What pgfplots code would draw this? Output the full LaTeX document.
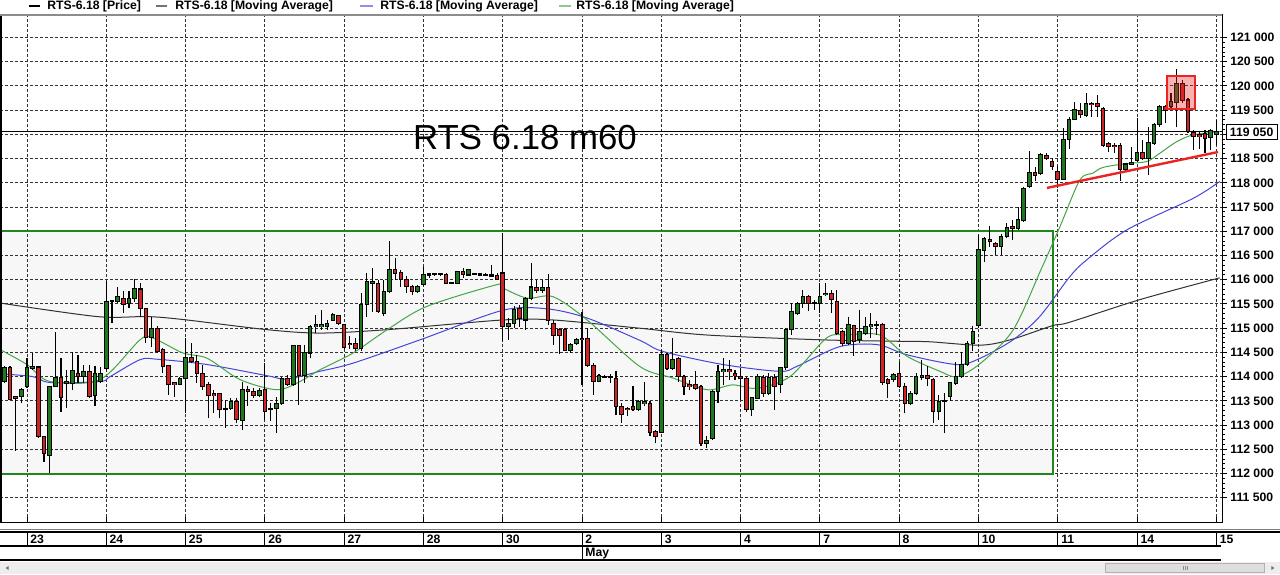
\documentclass[border=0pt]{standalone}
\usepackage{fontspec}
\setmainfont{Liberation Sans}
\usepackage{pgfplots}
\pgfplotsset{compat=1.18}
\usepackage{pgfplotstable}

\definecolor{cgreen}{RGB}{30,120,30}
\definecolor{cred}{RGB}{210,35,35}
\definecolor{magreen}{RGB}{70,165,70}
\definecolor{mablue}{RGB}{70,70,215}
\definecolor{mablack}{RGB}{50,50,50}
\definecolor{boxgreen}{RGB}{30,135,30}
\definecolor{trendred}{RGB}{235,35,35}
\newcommand\tickfont{\fontsize{6.1}{7}\selectfont\bfseries}

\pgfplotstableread{
n o h l c
-4 113900 114210 113870 114180
-3 114180 114210 113510 113520
-2 113590 113610 112460 113560
-1 113590 113760 113450 113730
0 113800 114380 113760 114180
1 114180 114490 114140 114210
2 114200 114210 112730 112770
3 112770 112770 112230 112410
4 112370 113800 112010 113800
5 113800 114930 113790 113990
6 113990 114380 113280 113580
7 113870 114140 113350 113900
8 113870 114520 113730 114120
9 114070 114450 113870 114000
10 114000 114250 113870 114110
11 114110 114250 113560 113590
12 113610 114210 113400 114060
13 113900 114200 113870 114070
14 114180 115970 114140 115550
15 115550 115590 115110 115570
16 115550 115860 115520 115660
17 115620 115760 115310 115500
18 115520 115760 115420 115620
19 115620 116010 115550 115830
20 115810 115930 115240 115400
21 115400 115420 114690 114800
22 114800 115240 114620 115000
23 115000 115040 114490 114520
24 114560 114590 114070 114210
25 114230 114250 113630 113830
26 113870 113870 113590 113830
27 113830 114000 113830 113970
28 113970 114800 113260 114400
29 114400 114690 114280 114310
30 114310 114450 113870 114070
31 114070 114250 113730 113800
32 113830 113900 113150 113610
33 113650 113730 113250 113610
34 113650 113660 113150 113320
35 113330 113520 112940 113320
36 113350 113560 113320 113490
37 113490 113560 113040 113110
38 113100 113900 112900 113730
39 113730 113800 113390 113700
40 113700 113760 113560 113610
41 113610 113760 113590 113720
42 113730 114280 113110 113280
43 113350 113450 113080 113330
44 113350 113590 112840 113450
45 113450 114000 113420 113970
46 113970 114040 113800 113830
47 113830 114660 113800 114640
48 114640 114660 113420 114020
49 114020 114660 113870 114490
50 114490 115070 114380 115040
51 115040 115280 114900 115070
52 115030 115380 114970 115070
53 115030 115170 114970 115100
54 115170 115310 115140 115280
55 115260 115280 115070 115100
56 115070 115080 114580 114610
57 114690 114830 114570 114660
58 114690 114790 114520 114590
59 114590 115720 114520 115480
60 115480 116150 115240 115960
61 115930 116240 115340 115960
62 115930 116000 115310 115340
63 115310 116000 115260 115760
64 115760 116810 115720 116210
65 116220 116450 116000 116140
66 116150 116210 115860 116000
67 116000 116070 115720 115860
68 115860 115900 115690 115760
69 115760 115900 115720 115860
70 115900 116270 115880 116100
71 116100 116140 116030 116120
72 116120 116150 116070 116120
73 116120 116140 116070 116120
74 116100 116140 115920 115930
75 115930 115960 115920 115950
76 115930 116190 115920 116170
77 116170 116240 116030 116120
78 116100 116220 116070 116210
79 116120 116140 116090 116120
80 116120 116130 116090 116100
81 116100 116150 116070 116090
82 116100 116310 116070 116080
83 116080 116140 116000 116010
84 116140 116960 114730 115030
85 115030 115210 114760 115100
86 115100 115450 115000 115380
87 115410 115480 115030 115210
88 115170 115650 114970 115620
89 115620 116340 115590 115850
90 115850 116000 115720 115790
91 115790 116000 115720 115850
92 115850 116120 115070 115160
93 115100 115170 114660 114860
94 114970 115000 114470 114840
95 114970 115000 114520 114550
96 114540 114690 114490 114660
97 114690 114790 114660 114760
98 114790 115340 113830 114760
99 114790 115000 114210 114240
100 114240 114280 113630 113900
101 113900 114060 113880 114020
102 114000 114030 113970 114000
103 114000 114060 113870 113990
104 113970 114110 113210 113380
105 113380 113450 113040 113210
106 113350 113380 113180 113320
107 113380 113800 113290 113320
108 113320 113520 113290 113490
109 113450 113900 113390 113480
110 113450 113490 112770 112840
111 112870 112900 112630 112770
112 112850 114560 112840 114450
113 114450 114490 114140 114180
114 114180 114800 114140 114350
115 114380 114400 113900 114000
116 114000 114040 113630 113800
117 113830 113940 113730 113800
118 113830 114110 113730 113760
119 113800 113830 112560 112630
120 112630 112770 112530 112680
121 112730 113730 112700 113700
122 113700 114250 113450 114110
123 114110 114380 113830 114140
124 114140 114350 113940 114110
125 114070 114140 113940 114020
126 114000 114180 113520 113970
127 113970 114000 113280 113320
128 113330 113590 113180 113560
129 113560 114060 113540 114000
130 113990 114040 113590 113650
131 113660 114070 113630 113990
132 113990 114060 113320 113800
133 113830 114210 113660 114180
134 114180 115000 114140 114980
135 114980 115520 114860 115350
136 115310 115550 115280 115520
137 115520 115790 115420 115660
138 115660 115690 115350 115520
139 115520 115590 115380 115530
140 115520 115930 115310 115660
141 115690 115940 115660 115720
142 115720 115790 115310 115590
143 115550 115790 114860 114900
144 114930 114970 114640 114680
145 114690 115240 114660 115070
146 115050 115070 114420 114730
147 114760 115380 114690 114930
148 114900 115240 114860 115040
149 115040 115310 114800 115070
150 115070 115140 114860 115070
151 115070 115110 113830 113870
152 113940 113970 113560 113870
153 113940 114070 113900 114040
154 114070 114310 113760 113800
155 113800 113870 113250 113450
156 113450 113700 113420 113660
157 113660 114070 113630 114000
158 113990 114350 113940 114020
159 114020 114210 113800 113970
160 113940 113970 113040 113280
161 113280 113630 113110 113490
162 113490 113660 112840 113510
163 113590 113900 113490 113870
164 113870 114310 113830 114000
165 114000 114520 113970 114250
166 114250 114730 114210 114690
167 114690 115040 114520 114930
168 115050 116920 115000 116620
169 116610 116890 116370 116860
170 116840 117110 116680 116790
171 116740 116790 116510 116680
172 116680 116940 116510 116900
173 116890 117170 116860 117080
174 117110 117230 116820 117060
175 117060 117510 117030 117250
176 117230 117920 117200 117890
177 117920 118660 117890 118220
178 118210 118330 118030 118160
179 118200 118610 118160 118580
180 118560 118610 118470 118510
181 118450 118510 118270 118330
182 118230 118340 117890 118070
183 118070 119130 118060 118890
184 118890 119370 118690 119310
185 119310 119680 119300 119520
186 119500 119640 119330 119420
187 119400 119850 119370 119640
188 119640 119680 119370 119610
189 119640 119810 119370 119570
190 119540 119570 118750 118780
191 118820 118850 118640 118760
192 118780 118820 118610 118750
193 118780 118820 118030 118270
194 118270 118420 118230 118390
195 118390 118750 118370 118420
196 118470 119330 118440 118620
197 118620 118890 118470 118510
198 118510 119160 118160 118830
199 118820 119230 118780 119200
200 119200 119610 119160 119570
201 119570 119610 119230 119500
202 119570 119850 119500 119680
203 119660 120360 119160 120060
204 120060 120120 119640 119710
205 119710 119750 119020 119060
206 119040 119090 118680 118950
207 118990 119060 118710 118950
208 119020 119090 118610 118920
209 118940 119110 118680 119080
210 118990 119300 118780 119060
}\candles

\begin{document}
\begin{tikzpicture}[x=1pt,y=1pt]
\useasboundingbox (0,-26) rectangle (640,261);
\fill[white] (0,-26) rectangle (640,261);

% legend
\draw[black, line width=1pt] (14.5,258) -- (20,258);
\node[anchor=west, inner sep=0, font=\tickfont] at (23.5,258) {RTS-6.18 [Price]};
\draw[black!55, line width=1pt] (78,258) -- (83.5,258);
\node[anchor=west, inner sep=0, font=\tickfont] at (87.5,258) {RTS-6.18 [Moving Average]};
\draw[mablue!60, line width=1pt] (180,258) -- (186.5,258);
\node[anchor=west, inner sep=0, font=\tickfont] at (190,258) {RTS-6.18 [Moving Average]};
\draw[magreen!60, line width=1pt] (279.5,258) -- (285.5,258);
\node[anchor=west, inner sep=0, font=\tickfont] at (288,258) {RTS-6.18 [Moving Average]};

\begin{axis}[
  at={(0,0)}, anchor=south west, scale only axis,
  width=611pt, height=253.5pt,
  xmin=-4.77, xmax=211, ymin=111000, ymax=121465,
  xtick={0,14,...,210}, xticklabels={},
  ytick={111500,112000,...,121000},
  yticklabels={111 500,112 000,112 500,113 000,113 500,114 000,114 500,115 000,115 500,116 000,116 500,117 000,117 500,118 000,118 500,{},119 500,120 000,120 500,121 000},
  xtick pos=lower, ytick pos=upper, yticklabel pos=upper,
  xtick align=inside, ytick align=outside,
  minor y tick num=4,
  major tick length=2.5pt, minor tick length=1.5pt,
  tick style={black, line width=0.5pt},
  grid=major,
  major grid style={black!80, line width=0.5pt, dash pattern=on 1.5pt off 1pt},
  axis line style={black, line width=0.5pt},
  yticklabel style={font=\tickfont, anchor=west, inner sep=1.5pt},
  scaled y ticks=false,
]
% consolidation box
\fill[black, fill opacity=0.03] (axis cs:-4.77,112000) rectangle (axis cs:181.1,117000);
\draw[boxgreen, line width=1pt] (axis cs:-4.77,112000) rectangle (axis cs:181.1,117000);
% last price line
\draw[black, line width=0.5pt] (axis cs:-4.77,119050) -- (axis cs:211,119050);

% moving averages
\addplot[mablack, line width=0.5pt, smooth, tension=0.5] coordinates {
(-4.77,115520) (12.4,115240) (21.2,115240) (27.5,115180) (42.4,114970) (51.7,114900)
(63.6,114970) (84,115170) (92.9,115170) (108.2,115000) (120,114860) (140.4,114760)
(154.1,114730) (159.4,114720) (168.3,114650) (173.6,114760) (181,115050) (184,115120)
(196.5,115590) (210.6,116040)};
\addplot[mablue, line width=0.5pt, smooth, tension=0.5] coordinates {
(-4.77,114060) (1.06,114000) (4.06,113880) (12.9,113900) (14.65,114000) (19.95,114350)
(22.95,114360) (31.8,114250) (42.4,114020) (45.9,113950) (51.7,114110) (57.6,114280)
(69.4,114760) (84.0,115370) (91.8,115400) (98.9,115210) (108.2,114750) (112.3,114520)
(122.9,114250) (132.9,114110) (135.9,114210) (143.5,114620) (150.2,114660) (155.4,114450)
(164.2,114250) (168.3,114380) (174.1,114760) (178.8,115240) (184.1,116060) (187.1,116410)
(194.2,117030) (205.9,117680) (210.6,118030)};
\addplot[magreen, line width=0.5pt, smooth, tension=0.5] coordinates {
(-4.77,114560) (0,114250) (4.06,113900) (12.9,113940) (19.95,114760) (22.2,114800)
(27.5,114490) (31.8,114380) (37.6,113940) (44.1,113730) (48.2,113900) (51.7,114140)
(57.6,114490) (63.6,114970) (70.6,115450) (83.0,115900) (84.0,115830) (88.3,115620)
(92.9,115650) (98.9,115170) (108.2,114210) (114.1,113970) (120.1,113730) (124.6,113830)
(128.9,113760) (134.7,114000) (141.2,114800) (144.8,114860) (150.6,114860) (155.4,114420)
(161.2,114110) (164.2,114000) (168.3,114270) (174.1,114960) (179.0,116200) (182.4,117100)
(185.9,118060) (188.2,118200) (190.0,118320) (194.2,118400) (197.7,118440) (200.0,118610)
(203.0,118850) (205.9,118990) (210.6,119060)};

% wicks
\addplot[draw=none, mark=none, forget plot,
  error bars/.cd, y dir=both, y explicit, error mark=none,
  error bar style={draw=black, line width=0.55pt}]
  table[x=n, y expr={(\thisrow{h}+\thisrow{l})/2}, y error expr={(\thisrow{h}-\thisrow{l})/2}] {\candles};
% body outline
\addplot[draw=none, mark=none, forget plot,
  error bars/.cd, y dir=both, y explicit, error mark=none,
  error bar style={draw=black, line width=2.3pt}]
  table[x=n, y expr={(\thisrow{o}+\thisrow{c})/2}, y error expr={max(abs(\thisrow{o}-\thisrow{c})/2+11,22)}] {\candles};
% up bodies
\addplot[draw=none, mark=none, forget plot,
  restrict expr to domain={\thisrow{c}-\thisrow{o}}{0:100000},
  error bars/.cd, y dir=both, y explicit, error mark=none,
  error bar style={draw=cgreen, line width=1.3pt}]
  table[x=n, y expr={(\thisrow{o}+\thisrow{c})/2}, y error expr={max(abs(\thisrow{o}-\thisrow{c})/2-10,0)}] {\candles};
% down bodies
\addplot[draw=none, mark=none, forget plot,
  restrict expr to domain={\thisrow{o}-\thisrow{c}}{1:100000},
  error bars/.cd, y dir=both, y explicit, error mark=none,
  error bar style={draw=cred, line width=1.3pt}]
  table[x=n, y expr={(\thisrow{o}+\thisrow{c})/2}, y error expr={max(abs(\thisrow{o}-\thisrow{c})/2-10,0)}] {\candles};

% annotations
\addplot[trendred, line width=1.2pt] coordinates {(180.1,117896) (210.3,118637)};
\draw[trendred, line width=0.8pt, fill=trendred, fill opacity=0.35] (axis cs:201.3,120207) rectangle (axis cs:206.2,119524);
\end{axis}

% thick left border, grey top border
\draw[black, line width=1pt] (0.5,0) -- (0.5,253.5);
\draw[black!45, line width=0.6pt] (0,253.5) -- (611,253.5);

% title
\node[anchor=base, inner sep=0, font=\fontsize{17.4}{20}\selectfont] at (262.5,186.3) {RTS 6.18 m60};

% last price box
\node[draw=black, line width=0.5pt, fill=white, inner sep=0pt, minimum width=25.5pt, minimum height=7.5pt, font=\tickfont] at (625.8,195.0) {119 050};

% date strip
\draw[black!50, line width=0.5pt] (0,-3.5) -- (640,-3.5);
\draw[black, line width=0.6pt] (0,-5) -- (640,-5);
\draw[black, line width=0.6pt] (0,-12) -- (610.5,-12);
\draw[black, line width=0.6pt] (0,-19) -- (610.5,-19);
\foreach \lab [count=\i from 0] in {23,24,25,26,27,28,30,2,3,4,7,8,10,11,14,15} {
  \pgfmathsetmacro\xx{13.5+39.648*\i}
  \draw[black, line width=0.5pt] (\xx,-5) -- (\xx,-12);
  \node[anchor=west, inner sep=0, font=\tickfont] at (\xx+1.5,-8.6) {\lab};
}
\draw[black, line width=0.5pt] (291.04,-12) -- (291.04,-19);
\node[anchor=west, inner sep=0, font=\tickfont] at (292.5,-15.6) {May};

% scrollbar
\fill[black!7] (0,-20) rectangle (640,-26);
\draw[black!30, fill=black!13, line width=0.4pt] (552.5,-20.6) rectangle (632,-25.4);
\foreach \g in {591.5,592.5,593.5} \draw[black!45, line width=0.3pt] (\g,-22) -- (\g,-24);
\fill[black!55] (2.8,-23) -- (4.3,-22) -- (4.3,-24) -- cycle;
\fill[black!55] (637.2,-23) -- (635.7,-22) -- (635.7,-24) -- cycle;
\end{tikzpicture}
\end{document}
